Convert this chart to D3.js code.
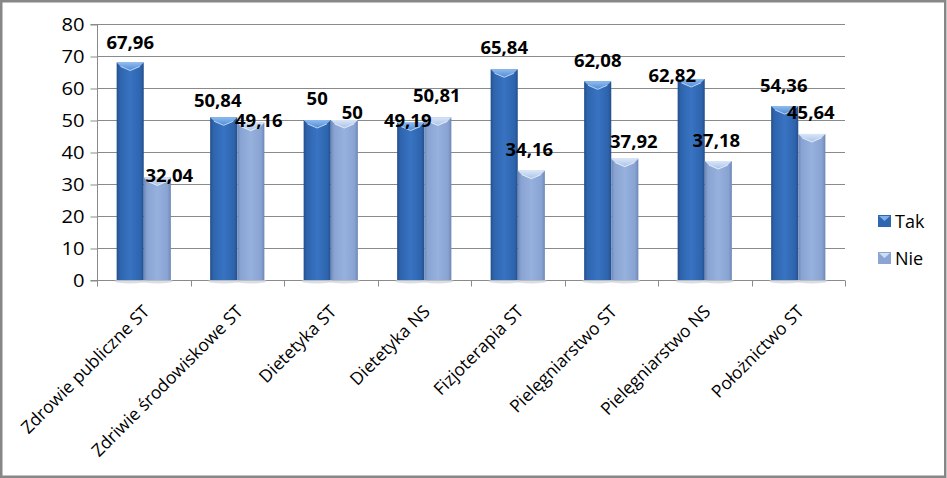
<!DOCTYPE html>
<html>
<head>
<meta charset="utf-8">
<script src="https://cdn.jsdelivr.net/npm/d3@7"></script>
<style>
  html, body { margin: 0; padding: 0; background: #fff; }
  svg { display: block; }
</style>
</head>
<body>
<svg id="chart" width="947" height="478"></svg>
<script>
const categories = ["Zdrowie publiczne ST", "Zdriwie środowiskowe ST", "Dietetyka ST", "Dietetyka NS",
  "Fizjoterapia ST", "Pielęgniarstwo ST", "Pielęgniarstwo NS", "Położnictwo ST"];
const seriesNames = ["Tak", "Nie"];
const takValues = [67.96, 50.84, 50, 49.19, 65.84, 62.08, 62.82, 54.36];
const nieValues = [32.04, 49.16, 50, 50.81, 34.16, 37.92, 37.18, 45.64];
const yTicks = [0, 10, 20, 30, 40, 50, 60, 70, 80];
// manual label nudges (as placed in the original), in px relative to bar center / bar top
const takLabelNudge = [[0,-14],[-6,-10],[0,-15],[-3,4],[0,-15],[0,-14],[-19,3],[-1,-14]];
const nieLabelNudge = [[12,5],[8,4],[8,-1],[-1,-15],[-2,-15],[9,-11],[-2,-14],[-1,-15]];

const svg = d3.select("#chart");
const W = 947, H = 478;
const plot = {left: 97, right: 845, top: 24, bottom: 280};
const FONT = "'Open Sans', Lato, sans-serif";

// frame
svg.append("rect").attr("x", 1.25).attr("y", 1.25).attr("width", W - 3).attr("height", H - 2.5)
  .attr("fill", "#fff").attr("stroke", "#878787").attr("stroke-width", 2.5);

const defs = svg.append("defs");
function hGrad(id, stops) {
  const g = defs.append("linearGradient").attr("id", id).attr("x1", "0").attr("x2", "1").attr("y1", "0").attr("y2", "0");
  stops.forEach(s => g.append("stop").attr("offset", s[0]).attr("stop-color", s[1]));
}
function vGrad(id, stops) {
  const g = defs.append("linearGradient").attr("id", id).attr("x1", "0").attr("x2", "0").attr("y1", "0").attr("y2", "1");
  stops.forEach(s => g.append("stop").attr("offset", s[0]).attr("stop-color", s[1]));
}
hGrad("gTak", [["0%", "#244f8c"], ["12%", "#2e64ad"], ["50%", "#3873c2"], ["88%", "#2e64ad"], ["100%", "#244f8c"]]);
hGrad("gNie", [["0%", "#6d87b6"], ["12%", "#88a3d2"], ["50%", "#97b1de"], ["88%", "#88a3d2"], ["100%", "#6d87b6"]]);
vGrad("cTak", [["0%", "#8ebcf0"], ["100%", "#4f8ad6"]]);
vGrad("cNie", [["0%", "#d9e6f8"], ["100%", "#a9c1e8"]]);
const fills = {Tak: "url(#gTak)", Nie: "url(#gNie)"};
const caps = {Tak: "url(#cTak)", Nie: "url(#cNie)"};
const legendFill = {Tak: "#2f66b0", Nie: "#8aa5d4"};

const x0 = d3.scaleBand().domain(categories).range([plot.left, plot.right]).padding(0);
const bw = x0.bandwidth();
const x1 = d3.scaleBand().domain(seriesNames).range([bw * 0.21, bw * 0.79]).padding(0);
const y = d3.scaleLinear().domain([0, 80]).range([plot.bottom, plot.top]);

// gridlines
svg.append("g").selectAll("line").data(yTicks.filter(t => t > 0)).join("line")
  .attr("x1", plot.left).attr("x2", plot.right)
  .attr("y1", d => Math.round(y(d)) + 0.5).attr("y2", d => Math.round(y(d)) + 0.5)
  .attr("stroke", "#8a8a8a").attr("stroke-width", 1);

// y axis
const yAxis = svg.append("g").attr("transform", `translate(${plot.left + 0.5},0.5)`)
  .call(d3.axisLeft(y).tickValues(yTicks).tickSize(7).tickPadding(6).tickFormat(d3.format("d")));
yAxis.select(".domain").attr("stroke", "#8a8a8a").attr("d", `M-7,${y(0)}H0V${y(80)}H-7`);
yAxis.selectAll(".tick line").attr("stroke", "#8a8a8a");
yAxis.selectAll(".tick text").attr("font-family", FONT).attr("font-size", 18).attr("fill", "#000")
  .attr("transform", "scale(1.12,1)").attr("dy", "0.36em")
  .each(function() { d3.select(this).attr("x", -13 / 1.12); });

// x axis
const xAxisG = svg.append("g").attr("transform", `translate(0,${Math.round(y(0)) + 0.5})`);
xAxisG.append("line").attr("x1", plot.left).attr("x2", plot.right).attr("stroke", "#8a8a8a");
const boundaries = categories.map(c => x0(c)).concat([plot.right]);
xAxisG.selectAll("line.tk").data(boundaries).join("line").attr("class", "tk")
  .attr("x1", d => Math.round(d) + 0.5).attr("x2", d => Math.round(d) + 0.5)
  .attr("y1", 0).attr("y2", 6).attr("stroke", "#8a8a8a");

// category labels
svg.append("g").selectAll("text").data(categories).join("text")
  .attr("transform", d => `translate(${x0(d) + bw / 2 - 4},${plot.bottom + 22}) rotate(-45)`)
  .attr("text-anchor", "end").attr("dominant-baseline", "hanging")
  .attr("font-family", FONT).attr("font-size", 17.5).attr("fill", "#000")
  .text(d => d);

// bars
const rows = categories.map((c, i) => ({cat: c, Tak: takValues[i], Nie: nieValues[i], i}));
const groups = svg.append("g").selectAll("g").data(rows).join("g")
  .attr("transform", d => `translate(${x0(d.cat)},0)`);

const barData = d => seriesNames.map(s => ({s, v: d[s], i: d.i}));
// shadow under bars
groups.selectAll("ellipse").data(barData).join("ellipse")
  .attr("cx", d => x1(d.s) + x1.bandwidth() / 2).attr("cy", y(0) + 1)
  .attr("rx", x1.bandwidth() / 2 + 2).attr("ry", 2.5).attr("fill", "#c9cfd8").attr("opacity", 0.7);

groups.selectAll("rect.bar").data(barData).join("rect").attr("class", "bar")
  .attr("x", d => x1(d.s)).attr("width", x1.bandwidth())
  .attr("y", d => y(d.v)).attr("height", d => y(0) - y(d.v))
  .attr("fill", d => fills[d.s]);

// bevel cap
groups.selectAll("path.cap").data(barData).join("path").attr("class", "cap")
  .attr("d", d => {
    const xa = x1(d.s), xb = xa + x1.bandwidth(), t = y(d.v), cx = (xa + xb) / 2;
    return `M${xa},${t}H${xb}L${xb - 4},${t + 4}L${cx},${t + 8}L${xa + 4},${t + 4}Z`;
  })
  .attr("fill", d => caps[d.s]);
groups.selectAll("path.edge").data(barData).join("path").attr("class", "edge")
  .attr("d", d => {
    const xa = x1(d.s), xb = xa + x1.bandwidth(), t = y(d.v), cx = (xa + xb) / 2;
    return `M${xa + 4},${t + 4}L${cx},${t + 8}L${xb - 4},${t + 4}`;
  })
  .attr("fill", "none").attr("stroke", d => d.s === "Tak" ? "#dbe9fb" : "#f3f7fd").attr("stroke-width", 1).attr("opacity", 0.8);

// data labels
const nudges = {Tak: takLabelNudge, Nie: nieLabelNudge};
groups.selectAll("text.lbl").data(barData).join("text").attr("class", "lbl")
  .attr("x", d => x1(d.s) + x1.bandwidth() / 2 + nudges[d.s][d.i][0])
  .attr("y", d => y(d.v) + nudges[d.s][d.i][1])
  .attr("text-anchor", "middle")
  .attr("font-family", FONT).attr("font-size", 18.5).attr("font-weight", "bold").attr("fill", "#000")
  .text(d => String(d.v).replace(".", ","));

// legend
const legend = svg.append("g").attr("transform", "translate(878,215)");
const li = legend.selectAll("g").data(seriesNames).join("g")
  .attr("transform", (d, i) => `translate(0,${i * 37})`);
li.append("rect").attr("width", 13).attr("height", 12).attr("fill", d => legendFill[d]);
li.append("path").attr("d", "M1,1H12L6.5,6Z").attr("fill", d => d === "Tak" ? "#7fb0ec" : "#d0def4");
li.append("text").attr("x", 17).attr("y", 12.5).attr("font-family", FONT).attr("font-size", 18).attr("fill", "#000")
  .text(d => d);
</script>
</body>
</html>
